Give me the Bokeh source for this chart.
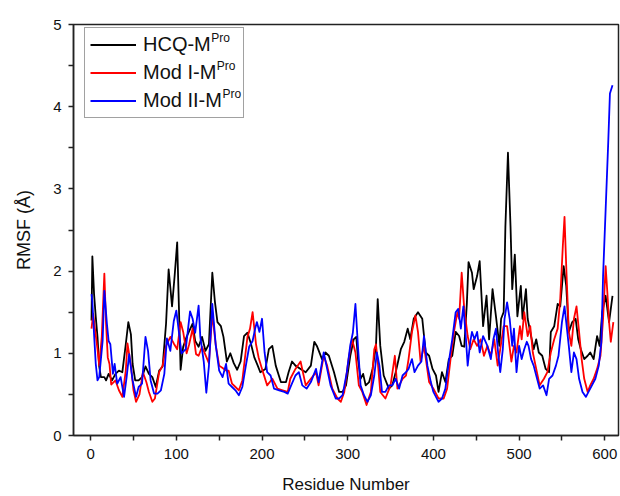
from bokeh.plotting import figure
from bokeh.models import Legend, LegendItem, Label, FixedTicker
from bokeh.embed import file_html
from bokeh.resources import INLINE

FONT = "Liberation Sans"

hcq_res = [1, 2, 4, 6, 8, 10, 12, 16, 18, 21, 25, 29, 33, 37, 41, 44, 47, 49, 52, 56, 60, 64, 68, 72, 76, 80, 84, 88,
           91, 93, 95, 98, 101, 103, 105, 108, 112, 115, 119, 122, 126, 130, 134, 138, 142, 145, 148, 152, 155, 159,
           163, 167, 171, 175, 179, 183, 187, 191, 195, 198, 204, 208, 212, 216, 222, 228, 231, 235, 239, 245, 251,
           257, 261, 264, 270, 274, 278, 284, 290, 294, 298, 303, 307, 310, 312, 315, 318, 321, 325, 329, 333, 335,
           338, 342, 348, 352, 356, 362, 366, 370, 373, 377, 382, 387, 391, 395, 399, 403, 406, 410, 414, 418, 422,
           426, 430, 433, 436, 439, 441, 445, 447, 451, 454, 458, 462, 465, 469, 473, 477, 479, 482, 484, 487, 490,
           492, 495, 498, 502, 504, 508, 510, 513, 517, 520, 523, 527, 531, 535, 537, 541, 545, 548, 552, 555, 558,
           562, 566, 569, 572, 576, 580, 583, 587, 591, 594, 597, 601, 605, 609]
hcq_val = [1.40, 2.18, 1.72, 1.44, 1.20, 0.84, 0.71, 0.71, 0.67, 0.75, 0.67, 0.75, 0.79, 0.77, 1.11, 1.38, 1.23, 0.87,
           0.67, 0.67, 0.71, 0.84, 0.75, 0.71, 0.59, 0.79, 0.84, 1.36, 2.02, 1.80, 1.57, 1.94, 2.35, 1.57, 0.80, 1.08,
           1.20, 1.27, 1.36, 1.15, 1.08, 1.20, 1.03, 1.11, 1.98, 1.63, 1.38, 1.33, 1.20, 0.90, 1.00, 0.88, 0.80, 0.90,
           1.21, 1.25, 1.12, 0.95, 0.85, 0.77, 0.81, 1.05, 1.09, 0.85, 0.65, 0.65, 0.77, 0.90, 0.85, 0.81, 0.77, 0.85,
           1.14, 1.09, 0.93, 1.01, 0.97, 0.77, 0.53, 0.53, 0.61, 0.97, 1.17, 1.20, 0.93, 0.69, 0.75, 0.61, 0.65, 0.81,
           1.09, 1.66, 1.09, 0.73, 0.57, 0.61, 0.77, 1.05, 1.14, 1.30, 1.17, 1.42, 1.50, 1.42, 1.01, 0.97, 0.81, 0.73,
           0.53, 0.77, 0.65, 0.93, 0.97, 1.26, 1.21, 1.09, 1.08, 1.60, 2.11, 1.98, 1.78, 1.94, 2.12, 1.33, 1.70, 1.17,
           1.78, 1.45, 1.09, 1.42, 1.50, 2.54, 3.44, 2.54, 1.78, 2.20, 1.45, 1.82, 1.42, 1.78, 1.42, 1.26, 1.05, 1.17,
           1.01, 0.97, 0.81, 0.77, 1.26, 1.33, 1.60, 1.57, 2.06, 1.82, 1.26, 1.38, 1.42, 1.17, 1.05, 0.93, 0.97, 1.01,
           0.93, 1.21, 1.09, 1.50, 1.70, 1.38, 1.70]

mod1_res = [1, 3, 5, 8, 10, 13, 16, 18, 20, 22, 24, 29, 33, 37, 41, 43, 47, 50, 53, 57, 61, 65, 68, 72, 75, 80, 84, 88,
            93, 97, 101, 105, 108, 112, 115, 119, 123, 126, 130, 134, 138, 142, 146, 150, 154, 158, 161, 165, 169, 173,
            177, 183, 186, 189, 193, 196, 200, 206, 212, 218, 224, 230, 233, 239, 245, 251, 257, 263, 266, 272, 276,
            282, 288, 292, 296, 301, 305, 309, 313, 317, 322, 327, 331, 333, 335, 338, 344, 350, 355, 358, 364, 368,
            371, 375, 379, 382, 385, 389, 395, 400, 406, 412, 416, 420, 424, 428, 430, 433, 436, 440, 443, 447, 451,
            455, 459, 463, 467, 471, 475, 478, 482, 486, 491, 494, 497, 501, 503, 506, 510, 513, 516, 520, 524, 529,
            533, 537, 541, 545, 548, 551, 553, 555, 558, 561, 564, 567, 570, 573, 576, 580, 583, 587, 591, 595, 598,
            601, 603, 605, 607, 610]
mod1_val = [1.30, 1.48, 1.30, 1.05, 0.85, 1.20, 1.97, 1.36, 0.95, 0.87, 0.62, 0.67, 0.55, 0.47, 0.79, 1.12, 0.85, 0.55,
            0.41, 0.50, 0.77, 0.65, 0.53, 0.41, 0.45, 0.77, 0.85, 1.09, 1.20, 1.12, 1.05, 1.38, 1.26, 1.00, 1.11, 1.30,
            0.99, 0.97, 1.08, 0.98, 0.88, 1.48, 1.10, 0.85, 0.82, 0.79, 0.79, 0.63, 0.59, 0.55, 0.67, 1.20, 1.30, 1.50,
            1.11, 0.95, 0.81, 0.61, 0.69, 0.57, 0.55, 0.53, 0.69, 0.81, 0.90, 0.61, 0.69, 0.77, 0.61, 0.97, 0.85, 0.57,
            0.45, 0.41, 0.53, 0.93, 1.17, 1.01, 0.61, 0.53, 0.37, 0.53, 1.05, 1.11, 0.90, 0.53, 0.45, 0.61, 0.97, 0.57,
            0.69, 0.73, 0.93, 1.26, 1.46, 1.26, 0.90, 1.09, 0.65, 0.57, 0.45, 0.45, 0.57, 0.93, 1.26, 1.50, 1.42, 1.98,
            1.54, 1.21, 1.05, 1.17, 1.09, 1.17, 0.97, 1.09, 0.97, 1.17, 0.85, 1.05, 1.33, 1.33, 0.90, 1.09, 1.01, 1.33,
            1.17, 1.50, 1.21, 1.33, 1.01, 0.81, 0.61, 0.69, 0.77, 1.01, 1.17, 1.30, 1.66, 2.30, 2.66, 2.06, 1.26, 1.09,
            1.42, 1.57, 1.26, 0.93, 0.69, 0.53, 0.61, 0.69, 0.81, 0.97, 1.42, 2.06, 1.74, 1.38, 1.14, 1.38]

mod2_res = [1, 2, 4, 6, 8, 10, 14, 16, 19, 21, 23, 26, 28, 31, 35, 39, 42, 45, 49, 53, 56, 60, 64, 67, 70, 74, 78, 82,
            86, 89, 93, 97, 100, 103, 106, 111, 116, 119, 122, 126, 128, 132, 135, 138, 142, 146, 150, 154, 158, 161,
            165, 169, 173, 177, 181, 185, 189, 192, 194, 197, 200, 203, 206, 210, 214, 220, 226, 230, 234, 239, 243,
            247, 252, 257, 263, 266, 272, 276, 280, 286, 290, 294, 299, 303, 306, 309, 312, 315, 319, 323, 327, 331,
            334, 337, 340, 344, 348, 352, 356, 360, 364, 368, 371, 375, 378, 382, 386, 389, 393, 397, 400, 406, 410,
            414, 418, 422, 426, 429, 432, 435, 438, 440, 443, 445, 448, 451, 454, 458, 463, 467, 470, 473, 476, 478,
            481, 483, 486, 489, 492, 494, 497, 500, 503, 506, 509, 511, 514, 517, 520, 524, 528, 532, 535, 539, 543,
            546, 550, 553, 555, 558, 561, 564, 567, 570, 574, 578, 581, 585, 589, 593, 596, 598, 601, 604, 606, 609]
mod2_val = [1.72, 1.63, 1.23, 0.87, 0.67, 0.71, 1.15, 1.76, 1.36, 1.15, 1.11, 0.75, 0.87, 0.63, 0.71, 0.47, 0.71, 0.99,
            0.67, 0.47, 0.59, 0.63, 1.20, 1.03, 0.67, 0.51, 0.51, 0.55, 0.75, 1.18, 1.03, 1.39, 1.52, 1.26, 1.00, 1.05,
            1.51, 1.42, 1.25, 1.58, 1.20, 0.90, 0.52, 0.84, 1.60, 1.10, 0.79, 0.71, 0.87, 0.63, 0.59, 0.55, 0.49, 0.59,
            0.84, 1.08, 1.15, 1.30, 1.38, 1.26, 1.42, 1.01, 0.77, 0.73, 0.57, 0.55, 0.53, 0.51, 0.61, 0.73, 0.77, 0.61,
            0.57, 0.65, 0.81, 0.65, 1.01, 0.81, 0.61, 0.45, 0.45, 0.49, 0.77, 1.10, 1.25, 1.60, 1.08, 0.61, 0.49, 0.41,
            0.49, 0.73, 1.01, 0.85, 0.53, 0.53, 0.61, 0.61, 0.69, 0.57, 0.73, 0.77, 0.81, 0.93, 0.77, 0.85, 0.90, 1.21,
            0.85, 0.65, 0.53, 0.41, 0.45, 0.57, 0.90, 1.17, 1.50, 1.54, 1.30, 1.57, 1.17, 0.85, 1.14, 1.26, 1.17, 1.26,
            1.01, 1.21, 1.09, 0.93, 1.17, 1.30, 0.95, 0.77, 1.05, 1.42, 1.62, 1.42, 1.09, 1.30, 0.77, 1.09, 0.93, 1.05,
            1.14, 1.09, 0.93, 0.85, 0.73, 0.57, 0.61, 0.49, 0.69, 0.73, 0.85, 0.97, 1.38, 1.57, 1.38, 1.09, 0.77, 1.01,
            0.93, 0.69, 0.53, 0.47, 0.53, 0.61, 0.69, 0.85, 1.14, 1.94, 2.75, 3.56, 4.16, 4.26]

series_names = ["HCQ-M", "Mod I-M", "Mod II-M"]
series_sup = "Pro"
series_colors = ["black", "red", "blue"]
x_ticks = [0, 100, 200, 300, 400, 500, 600]
x_minor = [50, 150, 250, 350, 450, 550]
y_ticks = [0, 1, 2, 3, 4, 5]
y_minor = [0.5, 1.5, 2.5, 3.5, 4.5]

W, H = 620, 496
p = figure(width=W, height=H, output_backend="svg", toolbar_location=None,
           x_range=(-20, 616), y_range=(0, 5),
           min_border_left=73, min_border_right=2, min_border_top=24, min_border_bottom=59)
p.xgrid.visible = False
p.ygrid.visible = False
p.outline_line_color = "#222222"
p.outline_line_width = 1.5
p.background_fill_color = "white"
p.border_fill_color = "white"

renderers = []
for xs, ys, c in [(hcq_res, hcq_val, series_colors[0]),
                  (mod1_res, mod1_val, series_colors[1]),
                  (mod2_res, mod2_val, series_colors[2])]:
    r = p.line(xs, ys, line_color=c, line_width=1.8, line_join="round")
    renderers.append(r)

p.xaxis.ticker = FixedTicker(ticks=x_ticks, minor_ticks=x_minor)
p.yaxis.ticker = FixedTicker(ticks=y_ticks, minor_ticks=y_minor)
for ax in (p.xaxis[0], p.yaxis[0]):
    ax.axis_line_color = "#222222"
    ax.axis_line_width = 1.5
    ax.major_tick_line_color = "#222222"
    ax.minor_tick_line_color = "#222222"
    ax.major_tick_line_width = 1.5
    ax.minor_tick_line_width = 1.5
    ax.major_tick_out = 5
    ax.major_tick_in = 0
    ax.minor_tick_out = 5
    ax.minor_tick_in = 0
    ax.major_label_text_font = FONT
    ax.major_label_text_font_size = "15px"
    ax.major_label_text_color = "#111111"
    ax.axis_label_text_font = FONT
    ax.axis_label_text_font_style = "normal"
    ax.axis_label_text_color = "#111111"
p.xaxis.axis_label = "Residue Number"
p.yaxis.axis_label = "RMSF (Å)"
p.xaxis.axis_label_text_font_size = "17px"
p.yaxis.axis_label_text_font_size = "18px"
p.xaxis.major_label_standoff = 8
p.yaxis.major_label_standoff = 7
p.xaxis.axis_label_standoff = 13
p.yaxis.axis_label_standoff = 16

# legend geometry (screen px)
LEG_X, LEG_Y, PAD, SPACING, ROW_H = 11, 317, 5, 5, 23
GLYPH_W, STANDOFF = 46, 7

items = [LegendItem(label=n, renderers=[r]) for n, r in zip(series_names, renderers)]
leg = Legend(items=items, location=(LEG_X, LEG_Y), padding=PAD, spacing=SPACING,
             label_height=ROW_H, glyph_height=ROW_H, glyph_width=GLYPH_W, label_standoff=STANDOFF, label_width=95,
             label_text_font=FONT, label_text_font_size="20px", label_text_color="#111111",
             border_line_color="#444444", border_line_width=1, background_fill_alpha=0.0,
             margin=0)
p.add_layout(leg, "center")

# superscripts after each legend label (screen units relative to the frame's bottom-left)
label_left = LEG_X + PAD + GLYPH_W + STANDOFF
widths = [67.8, 73.3, 78.9]
box_h = 2 * PAD + 3 * ROW_H + 2 * SPACING
first_row_top = LEG_Y + box_h - PAD
for i, w in enumerate(widths):
    top = first_row_top - i * (ROW_H + SPACING) + 4
    p.add_layout(Label(x=label_left + w + 1, y=top, x_units="screen", y_units="screen",
                       text=series_sup, text_font=FONT, text_font_size="12px",
                       text_baseline="top", text_color="#111111"))

open("out.html", "w").write(file_html(p, INLINE))
